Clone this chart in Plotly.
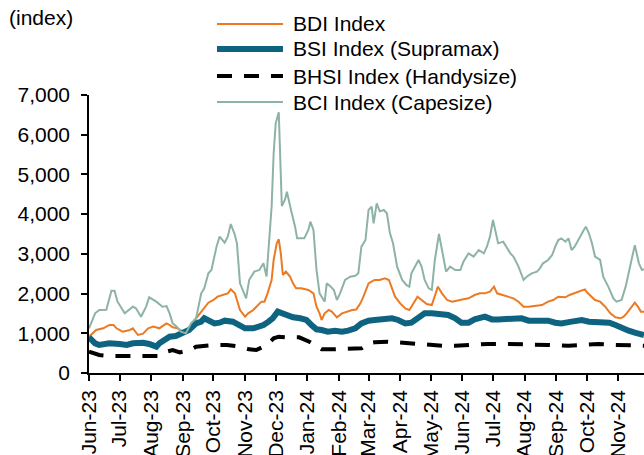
import plotly.graph_objects as go
import pandas as pd

# ---- data ----
start_date = "2023-06-01"
end_date = "2024-11-26"

# days after 1 Jun 2023 and index values
bdi_days = [0, 4, 7, 14, 20, 24, 27, 33, 40, 43, 48, 53, 58, 63, 69, 72, 76, 79, 82, 87, 92, 97, 102, 105,
            110, 113, 117, 122, 126, 131, 136, 139, 143, 145, 148, 153, 156, 161, 164, 169, 172, 175, 179,
            181, 184, 186, 188, 190, 193, 197, 200, 203, 208, 215, 220, 223, 226, 228, 231, 235, 238, 243,
            248, 253, 258, 262, 266, 269, 274, 277, 280, 285, 290, 294, 297, 300, 305, 310, 314, 318, 322,
            326, 331, 336, 339, 342, 346, 351, 356, 362, 367, 372, 378, 383, 388, 393, 397, 400, 405, 411,
            416, 421, 426, 431, 437, 444, 450, 455, 460, 467, 471, 476, 481, 486, 489, 493, 496, 501, 506,
            511, 516, 521, 524, 527, 532, 535, 538, 541, 544]
bdi_vals = [915, 999, 1083, 1125, 1209, 1209, 1125, 1041, 1083, 1125, 957, 990, 1125, 1167, 1125, 1180, 1250,
            1209, 1150, 1125, 1041, 1083, 1209, 1377, 1545, 1628, 1771, 1838, 1922, 1964, 2006, 2107, 2006,
            1838, 1586, 1418, 1502, 1586, 1670, 1796, 1796, 2006, 2342, 2846, 3265, 3366, 3013, 2468, 2552,
            2426, 2258, 2132, 2132, 2090, 2006, 1670, 1502, 1335, 1502, 1586, 1545, 1402, 1502, 1545, 1586,
            1600, 1754, 1922, 2258, 2300, 2342, 2342, 2384, 2342, 2132, 1922, 1754, 1628, 1586, 1754, 1922,
            1838, 1737, 1712, 1964, 2174, 2006, 1838, 1796, 1838, 1855, 1880, 1964, 2006, 2006, 2048, 2174,
            2006, 1964, 1922, 1880, 1796, 1670, 1670, 1687, 1712, 1796, 1838, 1922, 1905, 1964, 2006, 2048,
            2107, 2006, 1922, 1838, 1796, 1670, 1502, 1402, 1377, 1418, 1502, 1670, 1771, 1670, 1545, 1545]

bsi_days = [0, 6, 10, 20, 30, 37, 43, 53, 59, 66, 69, 76, 79, 85, 92, 98, 105, 110, 113, 118, 123, 128, 133,
            141, 148, 153, 161, 167, 171, 176, 180, 185, 190, 195, 200, 207, 213, 218, 223, 228, 234, 241,
            248, 254, 261, 267, 274, 280, 290, 297, 303, 310, 316, 323, 329, 336, 343, 352, 359, 365, 372,
            378, 388, 395, 401, 411, 424, 431, 440, 450, 457, 463, 473, 483, 490, 499, 510, 516, 522, 529,
            535, 544]
bsi_vals = [898, 747, 705, 747, 730, 705, 747, 763, 730, 663, 747, 873, 915, 932, 999, 1083, 1250, 1293, 1377,
            1318, 1250, 1267, 1318, 1293, 1209, 1125, 1125, 1167, 1209, 1293, 1377, 1545, 1502, 1435, 1402,
            1377, 1335, 1209, 1100, 1083, 1041, 1066, 1041, 1066, 1125, 1250, 1318, 1335, 1350, 1377, 1335,
            1250, 1267, 1419, 1502, 1502, 1485, 1460, 1377, 1267, 1267, 1350, 1419, 1350, 1350, 1377, 1377,
            1318, 1318, 1318, 1267, 1250, 1293, 1335, 1293, 1267, 1267, 1209, 1125, 1066, 1016, 957]

bhsi_days = [0, 6, 10, 20, 37, 50, 63, 69, 76, 82, 89, 99, 105, 112, 122, 135, 148, 157, 164, 171, 176, 181,
             186, 194, 206, 216, 223, 228, 241, 254, 267, 274, 280, 293, 306, 319, 333, 346, 359, 368, 378,
             391, 411, 431, 450, 470, 486, 499, 516, 529, 544]
bhsi_vals = [537, 495, 453, 428, 428, 411, 411, 428, 537, 579, 520, 579, 663, 680, 705, 705, 663, 596, 579,
             663, 747, 873, 915, 898, 898, 789, 663, 600, 596, 596, 621, 747, 772, 789, 764, 747, 705, 688,
             688, 705, 705, 730, 730, 705, 705, 688, 705, 730, 705, 688, 688]

bci_days = [0, 6, 10, 17, 22, 25, 28, 35, 43, 46, 51, 56, 59, 66, 72, 76, 79, 82, 86, 90, 95, 100, 105, 110,
            113, 117, 120, 125, 128, 133, 136, 139, 143, 145, 148, 154, 157, 162, 167, 171, 174, 176, 179,
            181, 183, 186, 189, 192, 194, 198, 202, 204, 211, 215, 217, 220, 223, 226, 231, 233, 236, 240,
            243, 246, 251, 256, 261, 264, 267, 271, 274, 277, 279, 282, 285, 289, 292, 295, 298, 302, 307,
            311, 314, 316, 320, 323, 326, 329, 333, 336, 339, 343, 346, 350, 354, 359, 364, 367, 372, 377,
            382, 387, 390, 393, 396, 398, 401, 406, 410, 413, 416, 421, 426, 429, 434, 439, 442, 445, 450,
            454, 457, 460, 463, 467, 470, 473, 476, 481, 485, 487, 490, 493, 496, 501, 504, 509, 514, 517,
            522, 526, 530, 534, 535, 539, 542, 544]
bci_vals = [1125, 1502, 1586, 1590, 2073, 2073, 1796, 1502, 1670, 1628, 1418, 1670, 1905, 1796, 1670, 1687,
            1502, 1250, 1167, 1041, 999, 1250, 1377, 2006, 2132, 2510, 2594, 3181, 3433, 3282, 3433, 3752,
            3475, 3265, 2258, 1880, 2342, 2552, 2594, 2762, 2426, 3181, 4189, 5532, 6287, 6564, 4205, 4357,
            4566, 4105, 3685, 3391, 3391, 3601, 3811, 3601, 2594, 2006, 1796, 2258, 2200, 2090, 1838, 2000,
            2342, 2426, 2450, 2510, 3181, 3350, 4105, 4189, 3769, 4273, 4070, 4105, 4021, 3517, 3265, 2678,
            2342, 2216, 2174, 2510, 2720, 2846, 2678, 2342, 2132, 2090, 2846, 3500, 3097, 2552, 2678, 2594,
            2594, 2800, 3013, 2930, 3097, 3013, 3181, 3433, 3853, 3601, 3265, 3307, 3139, 3013, 2930, 2678,
            2342, 2426, 2510, 2552, 2636, 2762, 2846, 2971, 3181, 3349, 3391, 3307, 3391, 3097, 3181, 3433,
            3601, 3685, 3517, 3265, 2930, 2846, 2426, 2174, 1880, 1796, 1838, 2174, 2636, 3181, 3220, 2762,
            2594, 2612]

series_names = ["BDI Index", "BSI Index (Supramax)", "BHSI Index (Handysize)", "BCI Index (Capesize)"]
y_ticks = [0, 1000, 2000, 3000, 4000, 5000, 6000, 7000]

# ---- styles ----
C_BDI = "#EC7A22"
C_BSI = "#0E6480"
C_BHSI = "#000000"
C_BCI = "#8DB3A4"
base = pd.Timestamp(start_date)


def to_dates(days):
    return [base + pd.Timedelta(days=d) for d in days]


fig = go.Figure()
fig.add_trace(go.Scatter(x=to_dates(bdi_days), y=bdi_vals, mode="lines", name=series_names[0],
                         line=dict(color=C_BDI, width=2)))
fig.add_trace(go.Scatter(x=to_dates(bsi_days), y=bsi_vals, mode="lines", name=series_names[1],
                         line=dict(color=C_BSI, width=6)))
fig.add_trace(go.Scatter(x=to_dates(bhsi_days), y=bhsi_vals, mode="lines", name=series_names[2],
                         line=dict(color=C_BHSI, width=4, dash="15px,12px")))
fig.add_trace(go.Scatter(x=to_dates(bci_days), y=bci_vals, mode="lines", name=series_names[3],
                         line=dict(color=C_BCI, width=2)))

# custom legend (long line samples) built from shapes + text
leg_y = [1.2554, 1.1655, 1.0683, 0.9748]
leg_styles = [(C_BDI, 2, "solid"), (C_BSI, 6, "solid"), (C_BHSI, 4, "15px,12px"), (C_BCI, 2, "solid")]
shapes = []
annotations = []
for name, yy, (c, w, d) in zip(series_names, leg_y, leg_styles):
    shapes.append(dict(type="line", xref="paper", yref="paper", x0=0.2306, x1=0.3495, y0=yy, y1=yy,
                       line=dict(color=c, width=w, dash=d)))
    annotations.append(dict(xref="paper", yref="paper", x=0.3640, y=yy, xanchor="left", yanchor="middle",
                            text=name, showarrow=False, font=dict(size=21, color="#000000")))
annotations.append(dict(xref="paper", yref="paper", x=-0.1477, y=1.277, xanchor="left", yanchor="middle",
                        text="(index)", showarrow=False, font=dict(size=21, color="#000000")))

fig.update_layout(
    width=644, height=455, autosize=False,
    margin=dict(l=89, r=0, t=95, b=82),
    paper_bgcolor="white", plot_bgcolor="white",
    font=dict(family="Liberation Sans, Arial, sans-serif", size=21, color="#000000"),
    showlegend=False,
    shapes=shapes, annotations=annotations,
)
fig.update_xaxes(
    type="date", range=[start_date, end_date], dtick="M1", tick0=start_date, tickformat="%b-%y",
    tickangle=-90, ticks="outside", ticklen=6, tickcolor="black", tickwidth=1.5,
    showline=True, linecolor="black", linewidth=1.5, showgrid=False, zeroline=False,
    tickfont=dict(size=21), ticklabelstandoff=1, automargin=False,
)
fig.update_yaxes(
    range=[0, 7000], tickvals=y_ticks, tickformat=",d", ticks="outside", ticklen=6, tickcolor="black",
    tickwidth=1.5, showline=True, linecolor="black", linewidth=1.5, showgrid=False, zeroline=False,
    tickfont=dict(size=21), ticklabelstandoff=7, automargin=False,
)

fig.write_html("out.html", config={"displayModeBar": False},
               post_script="document.body.style.margin='0px';")
